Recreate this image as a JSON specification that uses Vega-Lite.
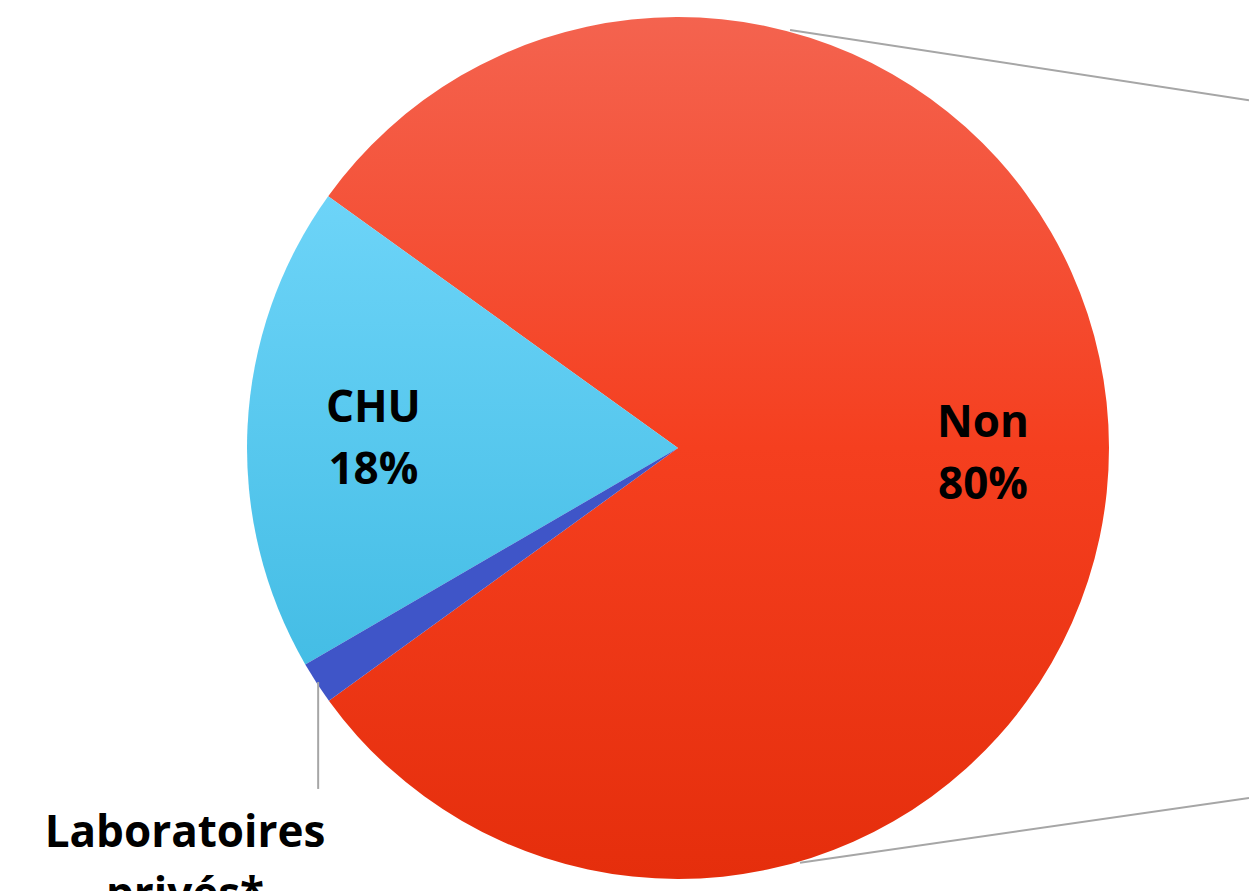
{
  "$schema": "https://vega.github.io/schema/vega-lite/v6.json",
  "width": 1142,
  "height": 896,
  "autosize": "none",
  "padding": {"left": 107, "top": 0, "right": 0, "bottom": 0},
  "background": "white",
  "config": {"view": {"stroke": null}},
  "datasets": {
    "slices": [
      {"category": "Laboratoires privés*", "value": 1.6, "order": 1, "inner": ""},
      {"category": "CHU", "value": 18.3, "order": 2, "inner": ["CHU", "18%"]},
      {"category": "Non", "value": 80.1, "order": 3, "inner": ["Non", "80%"]}
    ],
    "lines": [
      {"id": "top", "x": 0.26, "y": 0.97, "x2": 1.325, "y2": 0.807},
      {"id": "bottom", "x": 0.283, "y": -0.962, "x2": 1.325, "y2": -0.812},
      {"id": "leader", "x": -0.835, "y": -0.543, "x2": -0.835, "y2": -0.791}
    ],
    "outer": [
      {"label": ["Laboratoires", "privés*"], "x": -1.144, "y": -0.926}
    ]
  },
  "layer": [
    {
      "data": {"name": "slices"},
      "transform": [
        {"stack": "value", "groupby": [], "sort": [{"field": "order"}], "as": ["v0", "v1"]},
        {"filter": "datum.category === 'Non'"}
      ],
      "mark": {
        "type": "arc",
        "outerRadius": 431,
        "color": {
          "gradient": "linear", "x1": 0, "y1": 0, "x2": 0, "y2": 1,
          "stops": [
            {"offset": 0, "color": "#F4634F"},
            {"offset": 0.5, "color": "#F53F1F"},
            {"offset": 1, "color": "#E52E0C"}
          ]
        }
      },
      "encoding": {
        "theta": {"field": "v0", "type": "quantitative", "scale": {"domain": [0, 100], "range": [4.0858, 10.369]}},
        "theta2": {"field": "v1"}
      }
    },
    {
      "data": {"name": "slices"},
      "transform": [
        {"stack": "value", "groupby": [], "sort": [{"field": "order"}], "as": ["v0", "v1"]},
        {"filter": "datum.category === 'CHU'"}
      ],
      "mark": {
        "type": "arc",
        "outerRadius": 431,
        "color": {
          "gradient": "linear", "x1": 0, "y1": 0, "x2": 0, "y2": 1,
          "stops": [
            {"offset": 0, "color": "#6DD4F8"},
            {"offset": 1, "color": "#44BDE5"}
          ]
        }
      },
      "encoding": {
        "theta": {"field": "v0", "type": "quantitative", "scale": {"domain": [0, 100], "range": [4.0858, 10.369]}},
        "theta2": {"field": "v1"}
      }
    },
    {
      "data": {"name": "slices"},
      "transform": [
        {"stack": "value", "groupby": [], "sort": [{"field": "order"}], "as": ["v0", "v1"]},
        {"filter": "datum.category === 'Laboratoires privés*'"}
      ],
      "mark": {"type": "arc", "outerRadius": 431, "color": "#3F55C8"},
      "encoding": {
        "theta": {"field": "v0", "type": "quantitative", "scale": {"domain": [0, 100], "range": [4.0858, 10.369]}},
        "theta2": {"field": "v1"}
      }
    },
    {
      "data": {"name": "slices"},
      "mark": {"type": "text", "radius": 305, "dy": -24, "font": "Open Sans", "fontWeight": "bold", "fontSize": 44, "lineHeight": 62, "color": "black", "baseline": "middle", "align": "center"},
      "encoding": {
        "theta": {"field": "value", "type": "quantitative", "stack": true, "scale": {"domain": [0, 100], "range": [4.0858, 10.369]}},
        "order": {"field": "order", "type": "quantitative", "sort": "ascending"},
        "text": {"field": "inner"}
      }
    },
    {
      "data": {"name": "lines"},
      "mark": {"type": "rule", "color": "#A6A6A6", "strokeWidth": 2},
      "encoding": {
        "x": {"field": "x", "type": "quantitative", "scale": {"domain": [-1.325, 1.325], "nice": false, "zero": false}, "axis": null},
        "y": {"field": "y", "type": "quantitative", "scale": {"domain": [-1.0394, 1.0394], "nice": false, "zero": false}, "axis": null},
        "x2": {"field": "x2"},
        "y2": {"field": "y2"}
      }
    },
    {
      "data": {"name": "outer"},
      "mark": {"type": "text", "font": "Open Sans", "fontWeight": "bold", "fontSize": 44, "lineHeight": 62, "color": "black", "baseline": "alphabetic", "align": "center"},
      "encoding": {
        "x": {"field": "x", "type": "quantitative", "scale": {"domain": [-1.325, 1.325], "nice": false, "zero": false}, "axis": null},
        "y": {"field": "y", "type": "quantitative", "scale": {"domain": [-1.0394, 1.0394], "nice": false, "zero": false}, "axis": null},
        "text": {"field": "label"}
      }
    }
  ]
}
